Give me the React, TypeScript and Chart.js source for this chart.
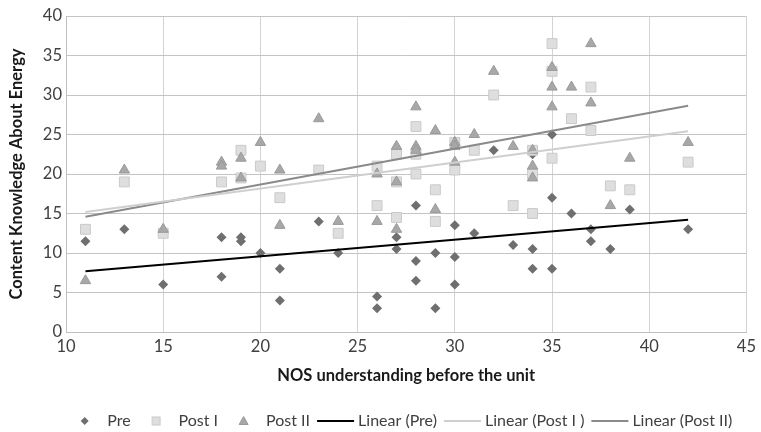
import React, { useEffect, useRef } from 'react';
import { Chart, registerables } from 'chart.js';

Chart.register(...registerables);

// ---- Data ----
const preX = [11, 13, 15, 18, 18, 19, 19, 20, 21, 21, 23, 24, 26, 26, 27, 27, 28, 28, 28, 29, 29, 30, 30, 30, 31, 32, 33, 34, 34, 34, 35, 35, 35, 36, 37, 37, 38, 39, 42];
const preY = [11.5, 13, 6, 12, 7, 12, 11.5, 10, 8, 4, 14, 10, 4.5, 3, 12, 10.5, 16, 9, 6.5, 10, 3, 13.5, 9.5, 6, 12.5, 23, 11, 22.5, 10.5, 8, 25, 17, 8, 15, 13, 11.5, 10.5, 15.5, 13];

const postIX = [11, 13, 15, 18, 19, 19, 20, 21, 23, 24, 26, 26, 27, 27, 27, 28, 28, 28, 29, 29, 30, 30, 31, 32, 33, 34, 34, 34, 35, 35, 35, 36, 37, 37, 38, 39, 42];
const postIY = [13, 19, 12.5, 19, 23, 19.5, 21, 17, 20.5, 12.5, 21, 16, 22.5, 19, 14.5, 26, 22.5, 20, 18, 14, 24, 20.5, 23, 30, 16, 23, 20, 15, 36.5, 33, 22, 27, 31, 25.5, 18.5, 18, 21.5];

const postIIX = [11, 13, 15, 18, 18, 19, 19, 20, 21, 21, 23, 24, 26, 26, 27, 27, 27, 28, 28, 28, 29, 29, 30, 30, 30, 31, 32, 33, 34, 34, 34, 35, 35, 35, 36, 37, 37, 38, 39, 42];
const postIIY = [6.5, 20.5, 13, 21.5, 21, 22, 19.5, 24, 20.5, 13.5, 27, 14, 20, 14, 23.5, 19, 13, 28.5, 23.5, 23, 25.5, 15.5, 24, 23.5, 21.5, 25, 33, 23.5, 23, 21, 19.5, 33.5, 31, 28.5, 31, 36.5, 29, 16, 22, 24];

// Trend line end points (Excel linear trendlines)
const trendX = [11, 42];
const trendPre = [7.7, 14.2];
const trendPostI = [15.2, 25.4];
const trendPostII = [14.6, 28.65];

const xMin = 10, xMax = 45, xStep = 5;
const yMin = 0, yMax = 40, yStep = 5;

const seriesLabels = ['Pre', 'Post I', 'Post II', 'Linear (Pre)', 'Linear (Post I )', 'Linear (Post II)'];
const xTitle = 'NOS understanding before the unit';
const yTitle = 'Content Knowledge About Energy';

const FONT = 'Lato';
const FS = 16.5;
const LEGEND_FS = 16;

const toPoints = (xs: number[], ys: number[]) => xs.map((x, i) => ({ x, y: ys[i] }));

const legendPlugin = {
  id: 'excelLegend',
  afterDraw(chart: any) {
    const ctx: CanvasRenderingContext2D = chart.ctx;
    const dsets = chart.data.datasets;
    ctx.save();
    ctx.font = `${LEGEND_FS}px ${FONT}`;
    ctx.textBaseline = 'middle';
    ctx.textAlign = 'left';
    const iconW = 37, gap = 4, between = 7;
    const widths = dsets.map((d: any) => iconW + gap + ctx.measureText(d.label).width);
    const total = widths.reduce((a: number, b: number) => a + b, 0) + between * (dsets.length - 1);
    const area = chart.chartArea;
    let x = (area.left + area.right) / 2 - 7 - total / 2;
    const y = 421;
    dsets.forEach((d: any, i: number) => {
      const cx = x + iconW / 2;
      ctx.fillStyle = d.backgroundColor;
      ctx.strokeStyle = d.borderColor;
      ctx.lineWidth = 1;
      if (d.legendIcon === 'line') {
        ctx.beginPath();
        ctx.lineWidth = d.borderWidth;
        ctx.moveTo(x, y);
        ctx.lineTo(x + iconW, y);
        ctx.stroke();
      } else if (d.legendIcon === 'rectRot') {
        ctx.beginPath();
        ctx.moveTo(cx, y - 4);
        ctx.lineTo(cx + 4, y);
        ctx.lineTo(cx, y + 4);
        ctx.lineTo(cx - 4, y);
        ctx.closePath();
        ctx.fill();
      } else if (d.legendIcon === 'rect') {
        ctx.fillRect(cx - 4, y - 4, 8, 8);
        ctx.strokeRect(cx - 4, y - 4, 8, 8);
      } else if (d.legendIcon === 'triangle') {
        ctx.beginPath();
        ctx.moveTo(cx, y - 4.5);
        ctx.lineTo(cx + 4.5, y + 3.5);
        ctx.lineTo(cx - 4.5, y + 3.5);
        ctx.closePath();
        ctx.fill();
        ctx.stroke();
      }
      ctx.fillStyle = '#404040';
      ctx.fillText(d.label, x + iconW + gap, y);
      x += widths[i] + between;
    });
    ctx.restore();
  },
};

export default function App() {
  const ref = useRef<HTMLCanvasElement>(null);

  useEffect(() => {
    document.body.style.margin = '0';
    const canvas = ref.current;
    if (!canvas) return;
    const chart = new Chart(canvas, {
      type: 'scatter',
      data: {
        datasets: [
          {
            label: seriesLabels[0],
            data: toPoints(preX, preY),
            pointStyle: 'rectRot',
            pointRadius: 5,
            backgroundColor: '#6f6f6f',
            borderColor: '#6f6f6f',
            borderWidth: 0,
            legendIcon: 'rectRot',
            order: 3,
          } as any,
          {
            label: seriesLabels[1],
            data: toPoints(postIX, postIY),
            pointStyle: 'rect',
            pointRadius: 7,
            backgroundColor: '#dedede',
            borderColor: '#cacaca',
            borderWidth: 1,
            legendIcon: 'rect',
            order: 2,
          } as any,
          {
            label: seriesLabels[2],
            data: toPoints(postIIX, postIIY),
            pointStyle: 'triangle',
            pointRadius: 6,
            backgroundColor: '#a8a8a8',
            borderColor: '#999999',
            borderWidth: 1,
            legendIcon: 'triangle',
            order: 1,
          } as any,
          {
            type: 'line',
            label: seriesLabels[3],
            data: toPoints(trendX, trendPre),
            borderColor: '#000000',
            backgroundColor: '#000000',
            borderWidth: 2,
            pointRadius: 0,
            showLine: true,
            fill: false,
            legendIcon: 'line',
            order: 0,
          } as any,
          {
            type: 'line',
            label: seriesLabels[4],
            data: toPoints(trendX, trendPostI),
            borderColor: '#cfcfcf',
            backgroundColor: '#cfcfcf',
            borderWidth: 2,
            pointRadius: 0,
            showLine: true,
            fill: false,
            legendIcon: 'line',
            order: 0,
          } as any,
          {
            type: 'line',
            label: seriesLabels[5],
            data: toPoints(trendX, trendPostII),
            borderColor: '#8a8a8a',
            backgroundColor: '#8a8a8a',
            borderWidth: 2,
            pointRadius: 0,
            showLine: true,
            fill: false,
            legendIcon: 'line',
            order: 0,
          } as any,
        ],
      },
      options: {
        animation: false,
        responsive: true,
        maintainAspectRatio: false,
        layout: { padding: { top: 16, right: 9, bottom: 40, left: 0 } },
        plugins: {
          legend: { display: false },
          tooltip: { enabled: false },
        },
        scales: {
          x: {
            type: 'linear',
            min: xMin,
            max: xMax,
            ticks: {
              stepSize: xStep,
              padding: 5,
              color: '#404040',
              font: { family: FONT, size: FS },
            },
            grid: { color: '#d3d3d3', drawTicks: false },
            border: { color: '#bfbfbf' },
            title: {
              display: true,
              text: xTitle,
              color: '#1a1a1a',
              font: { family: FONT, size: FS, weight: 'bold' },
              padding: { top: 0, bottom: 6.1 },
            },
            afterFit: (scale: any) => {
              scale.height = 60;
            },
          },
          y: {
            type: 'linear',
            min: yMin,
            max: yMax,
            ticks: {
              stepSize: yStep,
              padding: 4,
              color: '#404040',
              font: { family: FONT, size: FS },
            },
            grid: { color: '#c4c4c4', drawTicks: false },
            border: { color: '#bfbfbf' },
            title: {
              display: true,
              text: yTitle,
              color: '#1a1a1a',
              font: { family: FONT, size: FS, weight: 'bold' },
              padding: { top: 7.1, bottom: 0 },
            },
            afterFit: (scale: any) => {
              scale.width = 66;
            },
          },
        },
      } as any,
      plugins: [legendPlugin],
    });
    return () => chart.destroy();
  }, []);

  return (
    <div style={{ position: 'absolute', left: 0, top: 0, width: 761, height: 432, background: '#ffffff' }}>
      <canvas ref={ref} />
    </div>
  );
}
